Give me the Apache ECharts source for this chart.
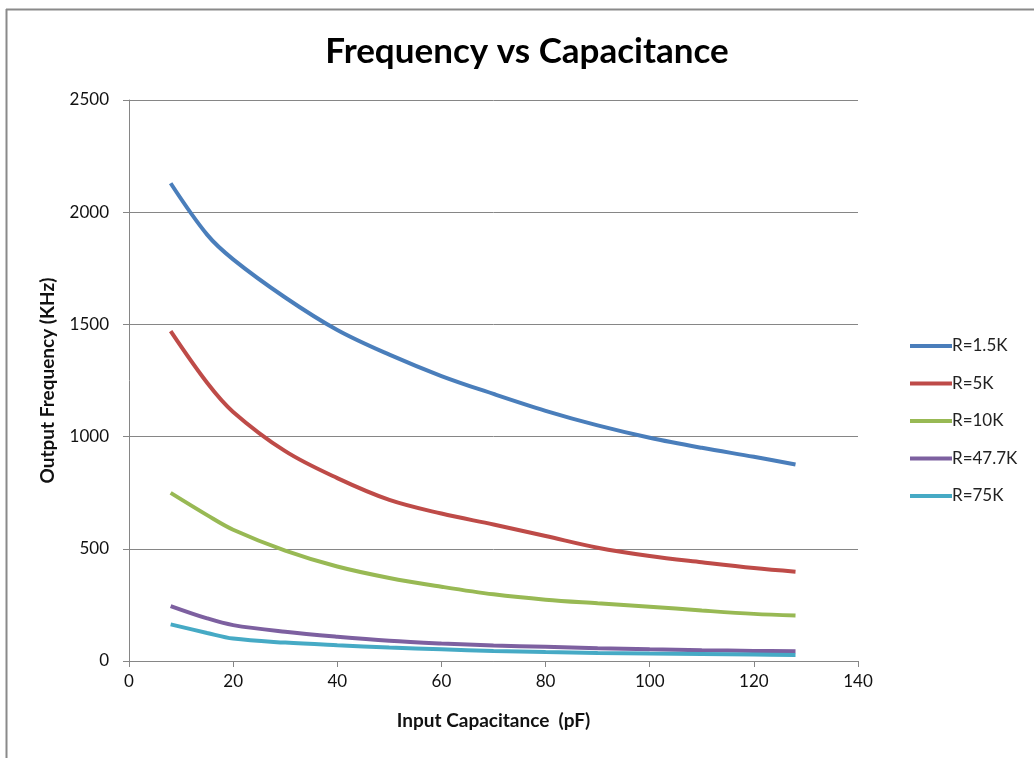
<!DOCTYPE html>
<html>
<head>
<meta charset="utf-8">
<script src="https://cdn.jsdelivr.net/npm/echarts@6/dist/echarts.min.js"></script>
<style>
html,body{margin:0;padding:0;background:#fff;}
#c{width:1034px;height:758px;}
</style>
</head>
<body>
<div id="c"></div>
<script>
const capacitance = [8, 15, 20, 30, 40, 50, 60, 70, 80, 90, 100, 110, 120, 128];
const seriesNames = ['R=1.5K', 'R=5K', 'R=10K', 'R=47.7K', 'R=75K'];
const r1_5k  = [2129, 1900, 1790, 1620, 1475, 1365, 1270, 1190, 1115, 1050, 995, 950, 910, 876];
const r5k    = [1470, 1240, 1110, 935, 815, 718, 657, 608, 557, 505, 468, 440, 414, 398];
const r10k   = [749, 650, 585, 492, 421, 370, 331, 297, 273, 257, 242, 225, 210, 203];
const r47_7k = [245, 190, 160, 130, 108, 90, 78, 69, 63, 57, 52, 48, 45, 43];
const r75k   = [163, 125, 100, 82, 70, 60, 52, 45, 40, 36, 33, 31, 29, 27];
const yTicks = [0, 500, 1000, 1500, 2000, 2500];
const xTicks = [0, 20, 40, 60, 80, 100, 120, 140];

const allValues = [r1_5k, r5k, r10k, r47_7k, r75k];
const colors = ['#4A7EBB', '#BE4B48', '#98B954', '#7D60A0', '#46AAC5'];

const chart = echarts.init(document.getElementById('c'), null, {renderer: 'canvas'});
const font = 'Lato, "Open Sans", sans-serif';

chart.setOption({
  animation: false,
  backgroundColor: '#fff',
  color: colors,
  title: {
    text: 'Frequency vs Capacitance',
    left: 522, top: 29, textAlign: 'center',
    textStyle: {fontFamily: font, fontSize: 35, fontWeight: 'bold', color: '#000'}
  },
  grid: {left: 129, right: 176, top: 100, bottom: 97, containLabel: false},
  legend: {
    orient: 'vertical',
    left: 905, top: 331,
    icon: 'rect',
    itemWidth: 42, itemHeight: 4,
    itemGap: 17.5,
    textStyle: {fontFamily: font, fontSize: 17, color: '#222', lineHeight: 20, padding: [0,0,0,-5]},
    data: seriesNames
  },
  xAxis: {
    type: 'value', min: xTicks[0], max: xTicks[xTicks.length-1], interval: 20,
    name: 'Input Capacitance  (pF)', nameLocation: 'middle', nameGap: 50,
    nameTextStyle: {fontFamily: font, fontSize: 19, fontWeight: 'bold', color: '#111'},
    axisLine: {show: true, lineStyle: {color: '#868686', width: 1}},
    axisTick: {show: true, inside: false, length: 6, lineStyle: {color: '#868686'}},
    axisLabel: {fontFamily: font, fontSize: 17, color: '#111', margin: 12, formatter: v => String(v)},
    splitLine: {show: false}
  },
  yAxis: {
    type: 'value', min: yTicks[0], max: yTicks[yTicks.length-1], interval: 500,
    name: 'Output Frequency (KHz)', nameLocation: 'middle', nameGap: 72, nameRotate: 90,
    nameTextStyle: {fontFamily: font, fontSize: 19, fontWeight: 'bold', color: '#111'},
    axisLine: {show: true, lineStyle: {color: '#868686', width: 1}},
    axisTick: {show: true, inside: false, length: 6, lineStyle: {color: '#868686'}},
    axisLabel: {fontFamily: font, fontSize: 17, color: '#111', margin: 20, formatter: v => String(v)},
    splitLine: {show: true, lineStyle: {color: '#868686', width: 1}}
  },
  graphic: [
    {type: 'line', shape: {x1: 6, y1: 9.5, x2: 1034, y2: 9.5}, style: {stroke: '#8a8a8a', lineWidth: 2}},
    {type: 'line', shape: {x1: 6.5, y1: 9, x2: 6.5, y2: 758}, style: {stroke: '#8a8a8a', lineWidth: 2}}
  ],
  series: seriesNames.map((n, i) => ({
    name: n,
    type: 'line',
    smooth: 0.35,
    showSymbol: false,
    symbol: 'none',
    lineStyle: {width: 4, color: colors[i]},
    data: capacitance.map((c, j) => [c, allValues[i][j]])
  }))
});
</script>
</body>
</html>
